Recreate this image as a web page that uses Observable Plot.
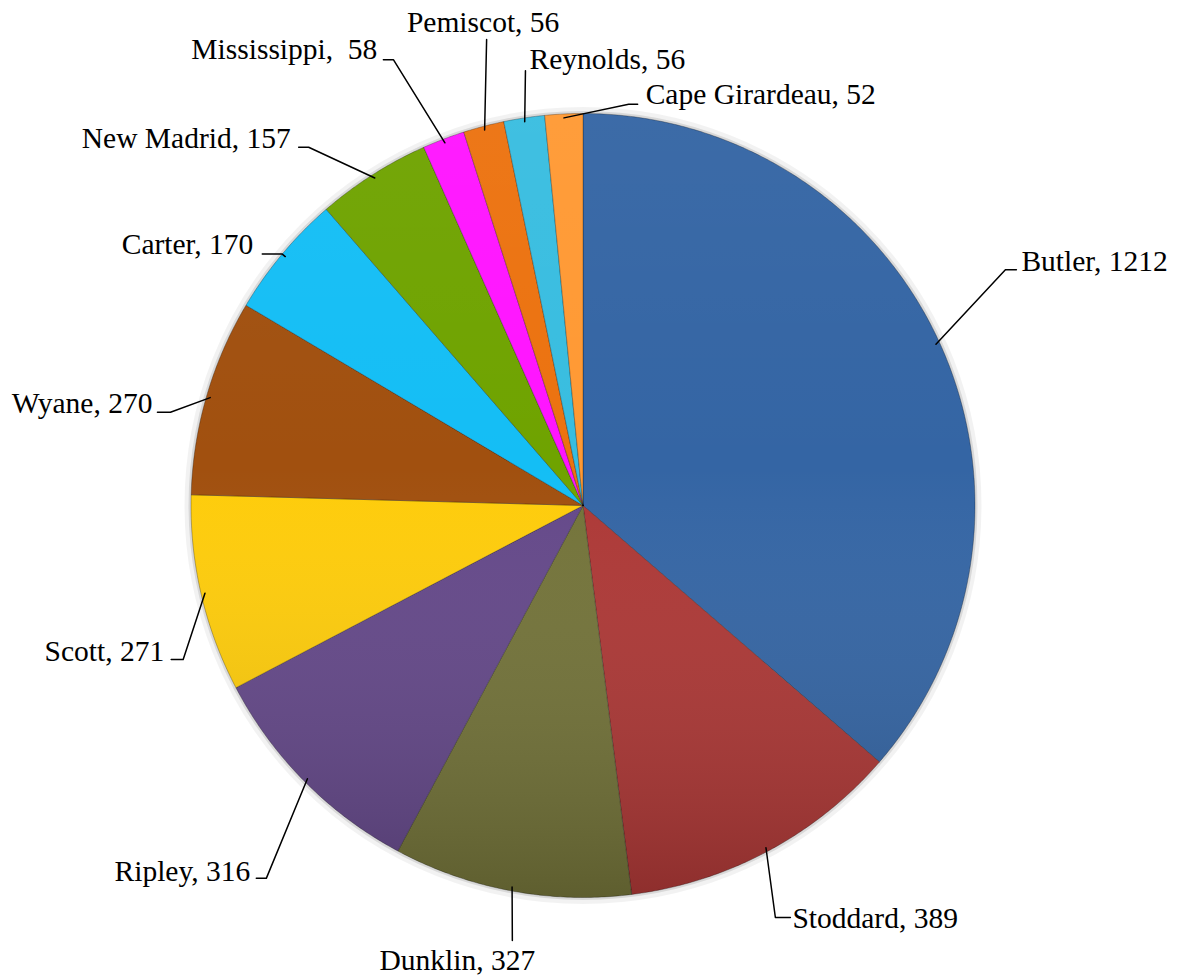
<!DOCTYPE html>
<html>
<head>
<meta charset="utf-8">
<script src="https://cdn.jsdelivr.net/npm/d3@7"></script>
<script src="https://cdn.jsdelivr.net/npm/@observablehq/plot@0.6"></script>
<style>
  html, body { margin: 0; padding: 0; background: #fff; overflow: hidden; }
  #chart svg { display: block; }
</style>
</head>
<body>
<div id="chart"></div>
<script>
// ---- Data ----
const names = ["Butler", "Stoddard", "Dunklin", "Ripley", "Scott", "Wyane", "Carter", "New Madrid", "Mississippi", "Pemiscot", "Reynolds", "Cape Girardeau"];
const values = [1212, 389, 327, 316, 271, 270, 170, 157, 58, 56, 56, 52];
const labelSeparators = [", ", ", ", ", ", ", ", ", ", ", ", ", ", ", ", ",\u00a0 ", ", ", ", ", ", "];

// ---- Styles ----
const sliceColors = ["#3465a4", "#ad3836", "#737339", "#644889", "#fecc0a", "#a1500f", "#14bef5", "#6fa300", "#ff14ff", "#ec720f", "#38bde0", "#ff9933"];

// ---- Label layout (leader-line elbow: angle nudge in degrees, radius factor; tick length px; text anchor; text offset px) ----
const labelLayout = [
  {dA: -4.6, k: 1.234, tick: 11, anchor: "start", dx: 5, dy: 1},
  {dA: 3.1, k: 1.160, tick: 15, anchor: "start", dx: 2, dy: 10},
  {dA: -1.3, k: 1.124, tick: 0, anchor: "middle", dx: -55, dy: 30},
  {dA: -4.9, k: 1.248, tick: -10, anchor: "end", dx: -6, dy: 3},
  {dA: -8.0, k: 1.093, tick: -12, anchor: "end", dx: -7, dy: 1},
  {dA: -3.4, k: 1.079, tick: -13, anchor: "end", dx: -5, dy: 1},
  {dA: 0, k: 1.0, tick: -20, anchor: "end", dx: -9, dy: 0},
  {dA: -5.0, k: 1.151, tick: -10, anchor: "end", dx: -8, dy: 1},
  {dA: -2.2, k: 1.236, tick: -10, anchor: "end", dx: -6, dy: -1},
  {dA: 3.0, k: 1.214, tick: 0, anchor: "middle", dx: -3.5, dy: -7},
  {dA: 1.1, k: 1.119, tick: 0, anchor: "start", dx: 4, dy: -2},
  {dA: 9.3, k: 1.03, tick: 9, anchor: "start", dx: 8, dy: 0}
];

// ---- Geometry ----
const W = 1191, H = 979;
const CX = 582.5, CY = 505, R = 392; // pie centre and radius in px
const polar = (a, r) => [r * Math.sin(a), r * Math.cos(a)];

const arcs = d3.pie().sort(null).value(d => d)(values);

const sliceRows = [];
arcs.forEach((a, i) => {
  const name = names[i];
  sliceRows.push({name, x: 0, y: 0});
  const n = Math.max(2, Math.ceil((a.endAngle - a.startAngle) / (Math.PI / 360)));
  for (let j = 0; j <= n; ++j) {
    const t = a.startAngle + (a.endAngle - a.startAngle) * j / n;
    const [x, y] = polar(t, 1);
    sliceRows.push({name, x, y});
  }
  sliceRows.push({name, x: 0, y: 0});
});

const leaderRows = [];
const labelRows = [];
arcs.forEach((a, i) => {
  const name = names[i];
  const L = labelLayout[i];
  const mid = (a.startAngle + a.endAngle) / 2;
  const [sx, sy] = polar(mid, 0.99);
  const [ex, ey] = polar(mid + L.dA * Math.PI / 180, L.k);
  const tx = ex + L.tick / R;
  leaderRows.push({name, x: sx, y: sy}, {name, x: ex, y: ey}, {name, x: tx, y: ey});
  labelRows.push({
    name,
    text: names[i] + labelSeparators[i] + values[i],
    x: tx + L.dx / R,
    y: ey - L.dy / R,
    anchor: L.anchor
  });
});

const defsMark = (index, scales) => {
  const ns = "http://www.w3.org/2000/svg";
  const defs = document.createElementNS(ns, "defs");
  const g = document.createElementNS(ns, "linearGradient");
  g.setAttribute("id", "pieShade");
  g.setAttribute("gradientUnits", "userSpaceOnUse");
  g.setAttribute("x1", 0); g.setAttribute("x2", 0);
  g.setAttribute("y1", scales.y(1)); g.setAttribute("y2", scales.y(-1));
  [["0", "#ffffff", 0.04], ["0.45", "#ffffff", 0.0], ["1", "#000000", 0.18]].forEach(([o, c, op]) => {
    const s = document.createElementNS(ns, "stop");
    s.setAttribute("offset", o); s.setAttribute("stop-color", c); s.setAttribute("stop-opacity", op);
    g.appendChild(s);
  });
  defs.appendChild(g);
  return defs;
};

const anchors = ["start", "end", "middle"];

const chart = Plot.plot({
  width: W,
  height: H,
  margin: 0,
  x: {domain: [-CX / R, (W - CX) / R], range: [0, W], axis: null},
  y: {domain: [-(H - CY) / R, CY / R], range: [H, 0], axis: null},
  color: {domain: names, range: sliceColors},
  style: {background: "#fff"},
  marks: [
    defsMark,
    Plot.dot([{x: 0, y: 0}], {x: "x", y: "y", r: R + 3, fill: "none", stroke: "#000", strokeOpacity: 0.05, strokeWidth: 7}),
    Plot.dot([{x: 0, y: 0}], {x: "x", y: "y", r: R + 1, fill: "none", stroke: "#000", strokeOpacity: 0.1, strokeWidth: 3}),
    Plot.line(sliceRows, {x: "x", y: "y", z: "name", fill: "name", stroke: "rgba(0,0,0,0.28)", strokeWidth: 1, curve: "linear"}),
    Plot.line(sliceRows, {x: "x", y: "y", z: "name", fill: "url(#pieShade)", stroke: "none", curve: "linear"}),
    Plot.line(leaderRows, {x: "x", y: "y", z: "name", stroke: "#000", strokeWidth: 1.5, curve: "linear"}),
    ...anchors.map(an => Plot.text(labelRows.filter(d => d.anchor === an), {
      x: "x", y: "y", text: "text",
      textAnchor: an, lineAnchor: "bottom",
      fontFamily: "Liberation Serif, Times New Roman, serif",
      fontSize: 29.5, fill: "#000"
    }))
  ]
});

document.getElementById("chart").appendChild(chart);
</script>
</body>
</html>
